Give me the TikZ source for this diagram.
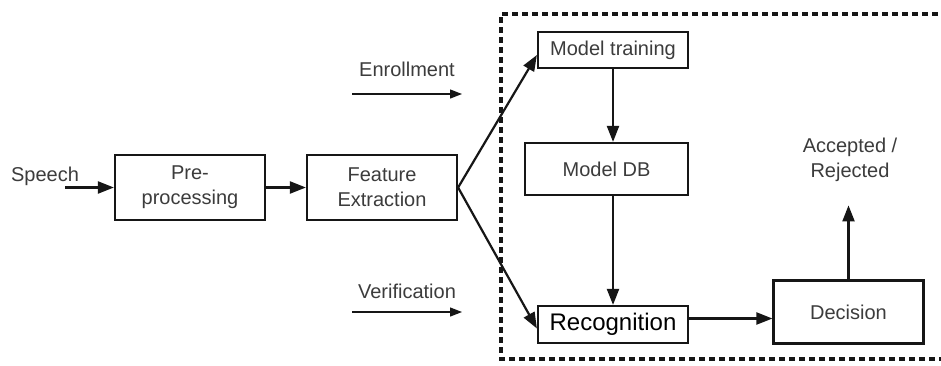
\documentclass[tikz,border=0pt]{standalone}
\usepackage{fontspec}
\setmainfont{Liberation Sans}
\usetikzlibrary{arrows.meta,calc}
\definecolor{inkgray}{HTML}{3C3C3C}
\definecolor{edge}{HTML}{161616}
\tikzset{
  blk/.style={draw=edge, line width=2.2pt, fill=white, text=inkgray,
    font=\fontsize{20}{25}\selectfont, align=center, inner sep=0pt},
  lbl/.style={text=inkgray, font=\fontsize{20}{25}\selectfont, align=center, inner sep=0pt},
  flow/.style={draw=edge, line width=2.2pt, -{Triangle[length=16pt,width=12pt]}},
  hint/.style={draw=edge, line width=1.3pt, -{Triangle[length=12pt,width=9pt]}},
  frame/.style={draw=edge, line width=3.2pt, dash pattern=on 6pt off 4pt}
}
\begin{document}
\begin{tikzpicture}[x=1pt,y=-1pt]
  \useasboundingbox[fill=white] (0,0) rectangle (941,365);

  % verification back-end frame (open to the right)
  \draw[frame] (948,14) -- (501,14) -- (501,359) -- (948,359);

  % front-end chain
  \node[lbl] (speech) at (45,176) {Speech};
  \coordinate (sin) at (65,187.5);
  \node[blk, minimum width=150pt, minimum height=65pt] (pre) at (190,187.5) {Pre-\\processing};
  \node[blk, minimum width=150pt, minimum height=65pt] (fe) at (382,187.5) {Feature\\Extraction};

  % back-end blocks
  \node[blk, minimum width=150pt, minimum height=36pt] (mt) at (613,50) {Model training};
  \node[blk, minimum width=163pt, minimum height=52pt] (db) at (606.5,169) {Model DB};
  \node[blk, minimum width=150pt, minimum height=37pt, text=black,
        font=\fontsize{24}{28}\selectfont] (rec) at (613,324.5) {Recognition};
  \node[blk, minimum width=150pt, minimum height=63pt] (dec) at (848.5,312) {Decision};
  \node[lbl] (acc) at (850,160) {Accepted /\\Rejected};

  % phase labels with their direction arrows
  \node[lbl] (enr) at (407,69) {Enrollment};
  \coordinate (enrA) at (352,94);
  \coordinate (enrB) at (462,94);
  \draw[hint] (enrA) -- (enrB);
  \node[lbl] (ver) at (407,291) {Verification};
  \coordinate (verA) at (352,312);
  \coordinate (verB) at (462,312);
  \draw[hint] (verA) -- (verB);

  % connectors
  \coordinate (recout) at ([yshift=6pt]rec.east);
  \draw[flow] (sin) -- (pre.west);
  \draw[flow] (pre.east) -- (fe.west);
  \draw[flow] (fe.east) -- ([yshift=-5pt]mt.west);
  \draw[flow] (fe.east) -- ([yshift=-4pt]rec.west);
  \draw[flow] (mt.south) -- (mt.south |- db.north);
  \draw[flow] (mt.south |- db.south) -- (mt.south |- rec.north);
  \draw[flow] (recout) -- (dec.west |- recout);
  \draw[flow] (dec.north) -- ++(0,-74);
\end{tikzpicture}
\end{document}
